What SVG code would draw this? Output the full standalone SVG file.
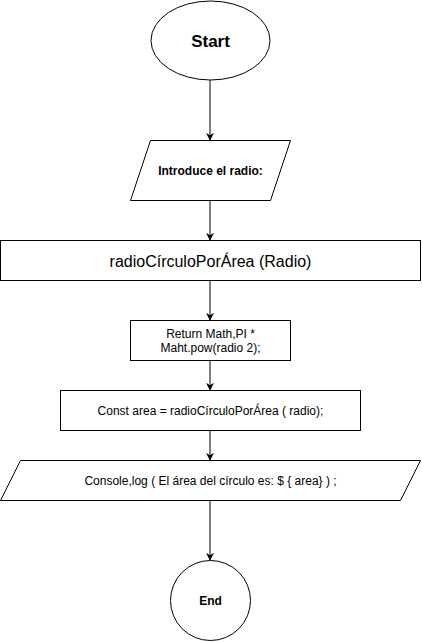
<svg xmlns="http://www.w3.org/2000/svg" width="422" height="642" viewBox="0 0 422 642">
<style>
.s{fill:#fff;stroke:#000;stroke-width:1}
.t{font-family:"Liberation Sans",Arial,sans-serif;fill:#000;text-anchor:middle;dominant-baseline:central}
.c{stroke:#000;stroke-width:1;fill:none}
</style>
<defs>
<marker id="a" viewBox="0 0 10 10" refX="9" refY="5" markerWidth="8" markerHeight="8" markerUnits="userSpaceOnUse" orient="auto">
<path d="M0,0 L10,5 L0,10 L3,5 Z" fill="#000"/>
</marker>
</defs>
<rect width="422" height="642" fill="#fff"/>
<g id="connectors">
<line class="c" x1="210" y1="80" x2="210" y2="140" marker-end="url(#a)"/>
<line class="c" x1="210" y1="200" x2="210" y2="240" marker-end="url(#a)"/>
<line class="c" x1="210" y1="280" x2="210" y2="320" marker-end="url(#a)"/>
<line class="c" x1="210" y1="360" x2="210" y2="390" marker-end="url(#a)"/>
<line class="c" x1="210" y1="430" x2="210" y2="460" marker-end="url(#a)"/>
<line class="c" x1="210" y1="500" x2="210" y2="560" marker-end="url(#a)"/>
</g>
<g id="start">
<ellipse class="s" cx="210.5" cy="40.5" rx="59.5" ry="39.5"/>
<text class="t" x="210.5" y="41" font-size="17" font-weight="bold">Start</text>
</g>
<g id="input">
<polygon class="s" points="150.5,140.5 290.5,140.5 270.5,200.5 130.5,200.5"/>
<text class="t" x="210.5" y="170.5" font-size="12" font-weight="bold">Introduce el radio:</text>
</g>
<g id="func">
<rect class="s" x="0.5" y="240.5" width="420" height="40"/>
<text class="t" x="210.5" y="261" font-size="16">radioCírculoPorÁrea (Radio)</text>
</g>
<g id="return">
<rect class="s" x="130.5" y="320.5" width="160" height="40"/>
<text class="t" x="210.5" y="333.5" font-size="12">Return Math,PI *</text>
<text class="t" x="210.5" y="347.5" font-size="12">Maht.pow(radio 2);</text>
</g>
<g id="const">
<rect class="s" x="60.5" y="390.5" width="300" height="40"/>
<text class="t" x="210.5" y="410.5" font-size="12">Const area = radioCírculoPorÁrea ( radio);</text>
</g>
<g id="output">
<polygon class="s" points="20.5,460.5 420.5,460.5 400.5,500.5 0.5,500.5"/>
<text class="t" x="210.5" y="480.5" font-size="12">Console,log ( El área del círculo es: $ { area} ) ;</text>
</g>
<g id="end">
<circle class="s" cx="210.5" cy="600.5" r="40"/>
<text class="t" x="210.5" y="600.5" font-size="12" font-weight="bold">End</text>
</g>
</svg>
